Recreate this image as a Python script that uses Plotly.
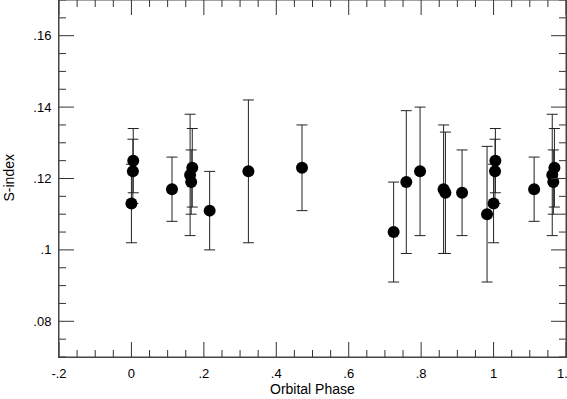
import plotly.graph_objects as go

# Orbital phase, S-index and 1-sigma error
phase = [0.000, 0.004, 0.005, 0.112, 0.162, 0.165, 0.168, 0.216, 0.323, 0.471,
         0.724, 0.759, 0.797, 0.862, 0.867, 0.913, 0.982]
s_index = [0.113, 0.122, 0.125, 0.117, 0.121, 0.119, 0.123, 0.111, 0.122, 0.123,
           0.105, 0.119, 0.122, 0.117, 0.116, 0.116, 0.110]
s_err = [0.011, 0.009, 0.009, 0.009, 0.017, 0.009, 0.011, 0.011, 0.020, 0.012,
         0.014, 0.020, 0.018, 0.018, 0.017, 0.012, 0.019]

# points with phase < 0.2 are repeated one cycle later (phase + 1)
rep = [i for i, p in enumerate(phase) if p + 1 <= 1.2]
x_all = phase + [phase[i] + 1 for i in rep]
y_all = s_index + [s_index[i] for i in rep]
e_all = s_err + [s_err[i] for i in rep]

x_ticks = [-0.2, 0, 0.2, 0.4, 0.6, 0.8, 1.0, 1.2]
x_ticktext = ["-.2", "0", ".2", ".4", ".6", ".8", "1", "1.2"]
y_ticks = [0.08, 0.10, 0.12, 0.14, 0.16]
y_ticktext = [".08", ".1", ".12", ".14", ".16"]
x_minor = [round(-0.2 + 0.05 * k, 2) for k in range(29)]
y_minor = [round(0.07 + 0.005 * k, 3) for k in range(21)]

fam = "Liberation Sans, Arial, Helvetica, sans-serif"
tick_col = "#333"

fig = go.Figure()
fig.add_trace(go.Scatter(
    x=x_all, y=y_all, mode="markers",
    marker=dict(size=12, color="black"),
    error_y=dict(type="data", array=e_all, visible=True,
                 color="#222", thickness=1, width=5.5),
    showlegend=False, cliponaxis=False,
))

font = dict(family=fam, size=13, color="black")
axis_common = dict(
    showline=True, linecolor="#444", linewidth=1, mirror=True,
    ticks="", showgrid=False, zeroline=False, tickfont=font, automargin=False,
    ticklabeloverflow="allow",
)
fig.update_xaxes(range=[-0.2, 1.2], tickvals=x_ticks, ticktext=x_ticktext,
                 ticklabelstandoff=4, **axis_common)
fig.update_yaxes(range=[0.07, 0.17], tickvals=y_ticks, ticktext=y_ticktext,
                 ticklabelstandoff=4, **axis_common)

# inside tick marks on all four sides (long at labelled values, short between)
for xv in x_minor:
    L = 15 if any(abs(xv - t) < 1e-9 for t in x_ticks) else 7
    for anchor, sign in ((0, 1), (1, -1)):
        fig.add_shape(type="line", xref="x", yref="paper", ysizemode="pixel",
                      yanchor=anchor, x0=xv, x1=xv, y0=0, y1=sign * L,
                      line=dict(color=tick_col, width=1), layer="above")
for yv in y_minor:
    L = 15 if any(abs(yv - t) < 1e-9 for t in y_ticks) else 7
    for anchor, sign in ((0, 1), (1, -1)):
        fig.add_shape(type="line", xref="paper", yref="y", xsizemode="pixel",
                      xanchor=anchor, y0=yv, y1=yv, x0=0, x1=sign * L,
                      line=dict(color=tick_col, width=1), layer="above")

fig.add_shape(type="rect", xref="paper", yref="paper", x0=0, y0=0, x1=1, y1=1,
              line=dict(color="#444", width=1), layer="above")
fig.add_annotation(text="Orbital Phase", xref="paper", yref="paper", x=0.5, y=0,
                   yshift=-32, yanchor="middle", showarrow=False,
                   font=dict(family=fam, size=14, color="black"))
fig.add_annotation(text="S-index", xref="paper", yref="paper", x=0, y=0.5,
                   xshift=-51, xanchor="center", textangle=-90, showarrow=False,
                   font=dict(family=fam, size=14, color="black"))
fig.update_layout(
    width=567, height=399,
    margin=dict(l=59, r=1, t=0, b=42),
    paper_bgcolor="white", plot_bgcolor="white",
    font=font,
)
fig.write_html("out.html", config={"displayModeBar": False},
               post_script="document.body.style.margin='0px';"
                           "Plotly.relayout(document.getElementById('{plot_id}'), {});")
